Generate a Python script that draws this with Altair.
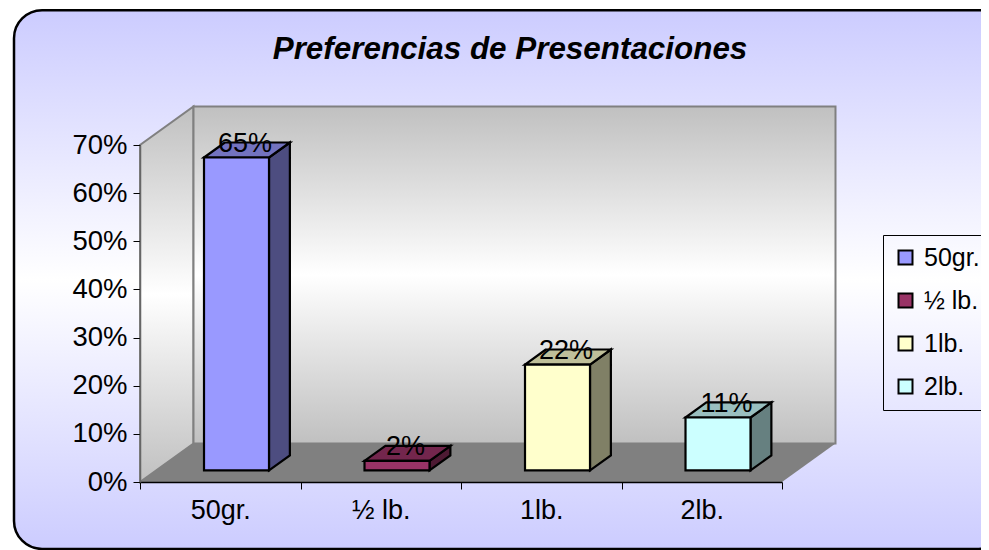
import altair as alt
import pandas as pd

categories = ["50gr.", "½ lb.", "1lb.", "2lb."]
values = [0.65, 0.02, 0.22, 0.11]
labels = ["65%", "2%", "22%", "11%"]
front_colors = ["#9999FF", "#993366", "#FFFFCC", "#CCFFFF"]
top_colors = ["#7373BF", "#73264D", "#BFBF99", "#99BFBF"]
side_colors = ["#4D4D80", "#4D1A33", "#808066", "#668080"]
y_ticks = [0, 0.1, 0.2, 0.3, 0.4, 0.5, 0.6, 0.7]

FONT = "Liberation Sans"
# projection of depth onto the category and value axes
DEPTH_X = 1 / 3
DEPTH_Y = 0.0800
BAR_L, BAR_W = 0.3988, 0.405
D0, D1 = 0.30, 0.69
XDOM = [0, 4]
YDOM = [0, 0.7]


def px(u, d=0.0):
    return u + d * DEPTH_X


def py(v, d=0.0):
    return v + d * DEPTH_Y


front, side, top = [], [], []
for i, c in enumerate(categories):
    v = values[i]
    l = i + BAR_L - D0 * DEPTH_X
    r = l + BAR_W
    front.append(dict(cat=c, x=px(l, D0), x2=px(r, D0), y=py(0, D0), y2=py(v, D0)))
    for d in (D0, D1):
        side.append(dict(cat=c, c=side_colors[i], x=px(r, d), y=py(0, d), y2=py(v, d)))
        top.append(dict(cat=c, c=top_colors[i], y=py(v, d), x=px(l, d), x2=px(r, d)))

label_df = pd.DataFrame(
    [dict(t=labels[i], x=i + BAR_L - D0 * DEPTH_X + BAR_W / 2 + px(0, D0) + 0.053, y=py(values[i], D1))
     for i in range(4)]
)


def grad(a, b, m=0.5):
    return alt.LinearGradient(
        gradient="linear", x1=0, x2=0, y1=0, y2=1,
        stops=[alt.GradientStop(color=a, offset=0),
               alt.GradientStop(color=b, offset=m),
               alt.GradientStop(color=a, offset=1)],
    )


qx = lambda f="x": alt.X(f"{f}:Q", scale=alt.Scale(domain=XDOM, nice=False), axis=None)
qy = alt.Y(
    "y:Q",
    scale=alt.Scale(domain=YDOM, nice=False),
    axis=alt.Axis(
        values=y_ticks, format=".0%", title=None, grid=False, tickSize=7, tickColor="#000000",
        domainColor="#666666", domainWidth=1.5, labelFont=FONT, labelFontSize=27.5, labelColor="#000000",
        labelPadding=6, zindex=1,
    ),
)

panel = alt.Chart(pd.DataFrame([dict(x=-0.785, x2=5.40, y=-0.139, y2=0.98)])).mark_rect(
    fill=grad("#CCCCFF", "#FFFFFF", 0.5), stroke="#000000", strokeWidth=2.5, cornerRadius=28
).encode(x=qx(), x2="x2:Q", y=qy, y2="y2:Q")

side_wall = alt.Chart(pd.DataFrame([
    dict(x=px(0, 0), y=py(0, 0), y2=py(0.7, 0)),
    dict(x=px(0, 1), y=py(0, 1), y2=py(0.7, 1)),
])).mark_area(fill=grad("#C0C0C0", "#FFFFFF", 0.5), stroke="#808080", strokeWidth=2).encode(
    x=qx(), y=qy, y2="y2:Q")

back_wall = alt.Chart(pd.DataFrame([dict(x=px(0, 1), x2=px(4, 1), y=py(0, 1), y2=py(0.7, 1))])).mark_rect(
    fill=grad("#C0C0C0", "#FFFFFF", 0.5), stroke="#808080", strokeWidth=2
).encode(x=qx(), x2="x2:Q", y=qy, y2="y2:Q")

floor = alt.Chart(pd.DataFrame([
    dict(y=py(0, 0), x=px(0, 0), x2=px(4, 0)),
    dict(y=py(0, 1), x=px(0, 1), x2=px(4, 1)),
])).mark_area(orient="horizontal", fill="#808080").encode(x=qx(), x2="x2:Q", y=qy)

band_axis = alt.Chart(pd.DataFrame({"cat": categories})).mark_tick(opacity=0).encode(
    x=alt.X("cat:N", sort=categories, scale=alt.Scale(paddingInner=0, paddingOuter=0),
            axis=alt.Axis(title=None, labelAngle=0, tickBand="extent", tickSize=7, tickColor="#000000",
                          domainColor="#000000", domainWidth=1.5, labelFont=FONT, labelFontSize=27,
                          labelColor="#000000", labelPadding=8, zindex=1)),
)

side_faces = alt.Chart(pd.DataFrame(side)).mark_area(stroke="#000000", strokeWidth=2.2).encode(
    x=qx(), y=qy, y2="y2:Q", fill=alt.Fill("c:N", scale=None), detail="cat:N")

top_faces = alt.Chart(pd.DataFrame(top)).mark_area(orient="horizontal", stroke="#000000", strokeWidth=2.2).encode(
    x=qx(), x2="x2:Q", y=qy, fill=alt.Fill("c:N", scale=None), detail="cat:N")

front_faces = alt.Chart(pd.DataFrame(front)).mark_rect(stroke="#000000", strokeWidth=2.2).encode(
    x=qx(), x2="x2:Q", y=qy, y2="y2:Q",
    fill=alt.Fill(
        "cat:N", sort=categories,
        scale=alt.Scale(domain=categories, range=front_colors),
        legend=alt.Legend(
            orient="none", legendX=743, legendY=90, title=None,
            symbolType="square", symbolSize=196, symbolStrokeColor="#000000", symbolStrokeWidth=2,
            labelFont=FONT, labelFontSize=25, labelColor="#000000", labelOffset=6, rowPadding=17,
            strokeColor="#000000", padding=10, zindex=1, labelLimit=300,
        ),
    ),
)

text = alt.Chart(label_df).mark_text(font=FONT, fontSize=27, color="#000000", baseline="middle", dy=1.5).encode(
    x=qx(), y=qy, text="t:N")

chart = (
    alt.layer(panel, side_wall, back_wall, floor, band_axis, side_faces, top_faces, front_faces, text)
    .resolve_scale(x="independent")
    .properties(
        width=642, height=337,
        title=alt.TitleParams(
            "Preferencias de Presentaciones", font=FONT, fontSize=31.4, fontWeight="bold", fontStyle="italic",
            color="#000000", anchor="middle", frame="group", dx=49, offset=-56, zindex=1,
        ),
        padding={"left": 132, "top": 137, "right": 199, "bottom": 68},
        autosize=alt.AutoSizeParams(type="none"),
    )
    .configure_view(stroke=None)
)

chart.save("out.html", embed_options={"renderer": "svg", "actions": False})
